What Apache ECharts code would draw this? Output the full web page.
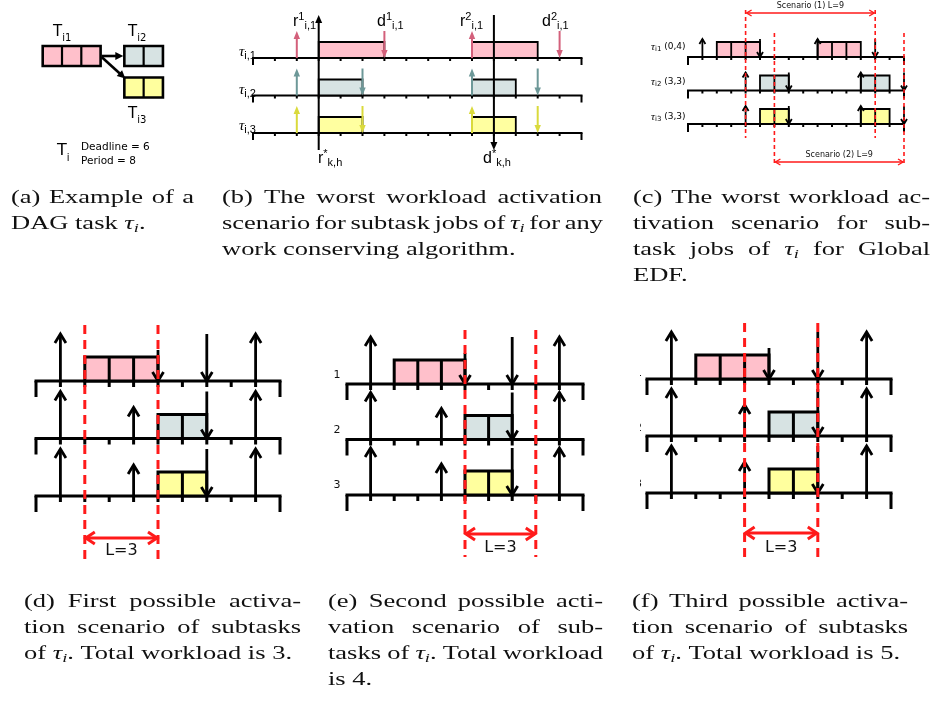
<!DOCTYPE html>
<html><head><meta charset="utf-8">
<script src="https://cdn.jsdelivr.net/npm/echarts@6/dist/echarts.min.js"></script>
<style>html,body{margin:0;padding:0;background:#fff}#c{width:936px;height:703px}</style>
</head><body><div id="c"></div>
<script>
// ================= DATA =================
// (a) DAG task
const dagNodes = ['i1', 'i2', 'i3'];
const dagWcet = [3, 2, 2];
const dagEdges = [[0, 1], [0, 2]];
const dagDeadline = 6;
const dagPeriod = 8;

// (b) worst workload scenario, any work-conserving algorithm
const bRowLabels = ['i,1', 'i,2', 'i,3'];
const bReleases = [[2, 10], [2, 10], [2, 10]];
const bDeadlines = [[6, 14], [5, 13], [5, 13]];
const bJobs = [[[3, 6], [10, 13]], [[3, 5], [10, 12]], [[3, 5], [10, 12]]];
const bWindow = [3, 11];           // r*k,h , d*k,h
const bHorizon = 15;

// (c) worst workload scenario, Global EDF
const cRowLabels = [['i1', '(0,4)'], ['i2', '(3,3)'], ['i3', '(3,3)']];
const cReleases = [[1, 9], [4, 12], [4, 12]];
const cDeadlines = [[5, 13], [7, 15], [7, 15]];
const cJobs = [[[2, 5], [9, 12]], [[5, 7], [12, 14]], [[5, 7], [12, 14]]];
const cScenarios = [[4, 13], [6, 15]];
const cScenarioLabels = ['Scenario (1) L=9', 'Scenario (2) L=9'];
const cHorizon = 15;

// (d)(e)(f) possible activation scenarios
const sReleases = [[1, 9], [1, 4, 9], [1, 4, 9]];
const sDeadlines = [[5, 7], [7], [7]];
const sJobs = [[2, 5], [5, 7], [5, 7]];
const sWindows = [[2, 5], [5, 8], [4, 7]];
const sWindowLabels = ['L=3', 'L=3', 'L=3'];
const sRowLabels = ['1', '2', '3'];
const sHorizon = 10;

// captions
const captionA = ['(a) Example of a', 'DAG task §.'];
const captionB = ['(b) The worst workload activation', 'scenario for subtask jobs of § for any', 'work conserving algorithm.'];
const captionC = ['(c) The worst workload ac-', 'tivation scenario for sub-', 'task jobs of § for Global', 'EDF.'];
const captionD = ['(d) First possible activa-', 'tion scenario of subtasks', 'of §. Total workload is 3.'];
const captionE = ['(e) Second possible acti-', 'vation scenario of sub-', 'tasks of §. Total workload', 'is 4.'];
const captionF = ['(f) Third possible activa-', 'tion scenario of subtasks', 'of §. Total workload is 5.'];

// ================= STYLE / LAYOUT =================
const PINK = '#ffc0cb', GREY = '#d7e3e3', YEL = '#ffff9e', RED = '#ff1a1a';
const STB = {lw: 2, tick: 3, endTick: 7, boxH: 16, boxLw: 1.8, cells: false, arrowLen: 27, headLen: 8, headHalf: 3.2,
  filled: true, arrowLw: 2, fills: [PINK, GREY, '#ffffa0'], arrowColors: ['#d3607b', '#6d9898', '#dada3c']};
const STC = {lw: 2, tick: 3, endTick: 8, boxH: 15, boxLw: 1.8, cells: true, arrowLen: 18, headLen: 5, headHalf: 3,
  filled: false, arrowLw: 1.8, fills: [PINK, GREY, YEL], arrowColors: null,
  red: RED, wlw: 1.6, dash: [4, 3], alw: 1.4, ahl: 5, ahh: 3, font: '8px "DejaVu Sans"',
  wins: [{y1: 10, y2: 138, ay: 13, ly: 6}, {y1: 33, y2: 163, ay: 162, ly: 155}]};
const STS = {lw: 3, tick: 6, endTick: 16, boxH: 24, boxLw: 3, cells: true, arrowLen: 47, shortLen: 31, headLen: 9, headHalf: 5.5,
  filled: false, arrowLw: 2.8, fills: [PINK, GREY, YEL], arrowColors: null,
  red: RED, wlw: 3, dash: [9, 6], alw: 3, ahl: 9, ahh: 6, font: '16px "DejaVu Sans"'};
const sShortArrows = [[5, 0, -1], [4, 1, 1], [4, 2, 1]]; // [t,row,dir] drawn with the short length
const winD = [{y1: 325, y2: 560, ay: 538, ly: 551}];
const winE = [{y1: 330, y2: 557, ay: 534, ly: 548}];
const winF = [{y1: 323, y2: 560, ay: 533, ly: 548}];
const layoutA = {col: [0, 4.23, 4.23], row: [0, 0, 1], boxH: 20, fills: [PINK, GREY, YEL]};

// ================= HELPERS =================
const mctx = document.createElement('canvas').getContext('2d');
function tw(t, f) { mctx.font = f; return mctx.measureText(t).width; }
function txt(x, y, t, f, align, color, sx) {
  const el = {type: 'text', x: x, y: y, silent: true,
    style: {text: t, font: f, fill: color || '#000', align: align || 'left', textAlign: align || 'left',
      verticalAlign: 'middle', textVerticalAlign: 'middle'}};
  if (sx) el.scaleX = sx;
  return el;
}
function seq(x, y, pieces) {
  const out = []; let cx = x;
  pieces.forEach(p => { out.push(txt(cx, y + (p[2] || 0), p[0], p[1])); cx += tw(p[0], p[1]); });
  return out;
}
function arrowEls(base, tip, d, hl, hh, color, lw, filled) {
  const els = [];
  const end = filled ? [tip[0] - d[0] * hl * 0.7, tip[1] - d[1] * hl * 0.7] : tip;
  els.push({type: 'line', shape: {x1: base[0], y1: base[1], x2: end[0], y2: end[1]}, style: {stroke: color, lineWidth: lw}});
  const bx = tip[0] - d[0] * hl, by = tip[1] - d[1] * hl, px = -d[1] * hh, py = d[0] * hh;
  const pts = [[bx + px, by + py], tip, [bx - px, by - py]];
  if (filled) els.push({type: 'polygon', shape: {points: pts}, style: {fill: color}});
  else els.push({type: 'polyline', shape: {points: pts}, style: {stroke: color, lineWidth: lw, fill: null, lineJoin: 'miter'}});
  return els;
}
function chev(tip, d, hl, hh, color, lw) {
  const bx = tip[0] - d[0] * hl, by = tip[1] - d[1] * hl, px = -d[1] * hh, py = d[0] * hh;
  return {type: 'polyline', shape: {points: [[bx + px, by + py], tip, [bx - px, by - py]]}, style: {stroke: color, lineWidth: lw, fill: null}};
}

// ================= CHART BUILD =================
const grids = [], xAxes = [], yAxes = [], series = [];
function addGrid(rect, xmax, ymax) {
  const i = grids.length;
  grids.push({left: rect[0], top: rect[1], width: rect[2], height: rect[3], containLabel: false, show: false});
  xAxes.push({gridIndex: i, type: 'value', min: 0, max: xmax, show: false});
  yAxes.push({gridIndex: i, type: 'value', min: 0, max: ymax, inverse: true, show: false});
  return i;
}
function addCustom(gi, data, render, z) {
  series.push({type: 'custom', xAxisIndex: gi, yAxisIndex: gi, data: data, renderItem: render,
    clip: false, silent: true, animation: false, z: z});
}
function timelineRender(st) {
  return function (params, api) {
    const H = api.value(0), r = api.value(1);
    const p0 = api.coord([0, r]), p1 = api.coord([H, r]);
    const ch = [{type: 'line', shape: {x1: p0[0] - st.lw / 2, y1: p0[1], x2: p1[0] + st.lw / 2, y2: p1[1]}, style: {stroke: '#000', lineWidth: st.lw}}];
    for (let t = 0; t <= H; t++) {
      const p = api.coord([t, r]);
      const L = (t === 0 || t === H) ? st.endTick : st.tick;
      ch.push({type: 'line', shape: {x1: p[0], y1: p[1], x2: p[0], y2: p[1] + L}, style: {stroke: '#000', lineWidth: st.lw}});
    }
    return {type: 'group', children: ch};
  };
}
function jobRender(st) {
  return function (params, api) {
    const s = api.value(0), r = api.value(1), e = api.value(2);
    const a = api.coord([s, r]), b = api.coord([e, r]);
    const ch = [{type: 'rect', shape: {x: a[0], y: a[1] - st.boxH, width: b[0] - a[0], height: st.boxH},
      style: {fill: st.fills[r], stroke: '#000', lineWidth: st.boxLw}}];
    if (st.cells) {
      for (let t = s + 1; t < e; t++) {
        const p = api.coord([t, r]);
        ch.push({type: 'line', shape: {x1: p[0], y1: p[1] - st.boxH, x2: p[0], y2: p[1]}, style: {stroke: '#000', lineWidth: st.boxLw}});
      }
    }
    return {type: 'group', children: ch};
  };
}
function arrowRender(st) {
  return function (params, api) {
    const t = api.value(0), r = api.value(1), dir = api.value(2), sh = api.value(3);
    const p = api.coord([t, r]);
    const len = sh ? st.shortLen : st.arrowLen;
    const color = st.arrowColors ? st.arrowColors[r] : '#000';
    let base, tip, d;
    if (dir > 0) { base = [p[0], p[1]]; tip = [p[0], p[1] - len]; d = [0, -1]; }
    else { base = [p[0], p[1] - len]; tip = [p[0], p[1]]; d = [0, 1]; }
    return {type: 'group', children: arrowEls(base, tip, d, st.headLen, st.headHalf, color, st.arrowLw, st.filled)};
  };
}
function windowRender(st, wins, labels) {
  return function (params, api) {
    const s = api.value(0), idx = api.value(1), e = api.value(2);
    const w = wins[idx];
    const x1 = api.coord([s, 0])[0], x2 = api.coord([e, 0])[0];
    const ch = [];
    [x1, x2].forEach(x => ch.push({type: 'line', shape: {x1: x, y1: w.y1, x2: x, y2: w.y2},
      style: {stroke: st.red, lineWidth: st.wlw, lineDash: st.dash}}));
    ch.push({type: 'line', shape: {x1: x1 + 1, y1: w.ay, x2: x2 - 1, y2: w.ay}, style: {stroke: st.red, lineWidth: st.alw}});
    ch.push(chev([x1 + 1, w.ay], [-1, 0], st.ahl, st.ahh, st.red, st.alw));
    ch.push(chev([x2 - 1, w.ay], [1, 0], st.ahl, st.ahh, st.red, st.alw));
    ch.push(txt((x1 + x2) / 2, w.ly, labels[idx], st.font, 'center', '#111'));
    return {type: 'group', children: ch};
  };
}
function timelinePanel(gi, st, H, releases, deadlines, jobs, shortList) {
  const isShort = (t, r, d) => (shortList || []).some(s => s[0] === t && s[1] === r && s[2] === d) ? 1 : 0;
  addCustom(gi, [0, 1, 2].map(r => [H, r]), timelineRender(st), 2);
  addCustom(gi, jobs, jobRender(st), 3);
  const arrows = [];
  releases.forEach((ts, r) => ts.forEach(t => arrows.push([t, r, 1, isShort(t, r, 1)])));
  deadlines.forEach((ts, r) => ts.forEach(t => arrows.push([t, r, -1, isShort(t, r, -1)])));
  addCustom(gi, arrows, arrowRender(st), 4);
}

// ---- panel (a) ----
const gA = addGrid([42.7, 56, 19.3 * 8, 31.5], 8, 1);
addCustom(gA, dagNodes.map((n, i) => [layoutA.col[i], layoutA.row[i], dagWcet[i], i]), function (params, api) {
  const c = api.value(0), r = api.value(1), w = api.value(2), i = api.value(3);
  const a = api.coord([c, r]), b = api.coord([c + w, r]);
  const h = layoutA.boxH;
  const ch = [{type: 'rect', shape: {x: a[0], y: a[1] - h / 2, width: b[0] - a[0], height: h},
    style: {fill: layoutA.fills[i], stroke: '#000', lineWidth: 2.6}}];
  for (let k = 1; k < w; k++) {
    const p = api.coord([c + k, r]);
    ch.push({type: 'line', shape: {x1: p[0], y1: p[1] - h / 2, x2: p[0], y2: p[1] + h / 2}, style: {stroke: '#000', lineWidth: 2.2}});
  }
  return {type: 'group', children: ch};
}, 3);
addCustom(gA, dagEdges.map(e => [e[0], e[1]]), function (params, api) {
  const f = api.value(0), t = api.value(1);
  const s = api.coord([layoutA.col[f] + dagWcet[f], layoutA.row[f]]);
  const g = api.coord([layoutA.col[t], layoutA.row[t]]);
  let tip, base;
  if (layoutA.row[f] === layoutA.row[t]) { base = [s[0] + 1, s[1]]; tip = [g[0] - 1, g[1]]; }
  else { base = [s[0] + 1, s[1] + 1]; tip = [g[0] + 1, g[1] - layoutA.boxH / 2 + 1]; }
  const dx = tip[0] - base[0], dy = tip[1] - base[1], L = Math.hypot(dx, dy);
  return {type: 'group', children: arrowEls(base, tip, [dx / L, dy / L], 8, 4, '#000', 2.6, true)};
}, 4);

// ---- panel (b) ----
const gB = addGrid([253, 58, 328.5, 75], bHorizon, 2);
timelinePanel(gB, STB, bHorizon, bReleases, bDeadlines,
  bJobs.flatMap((js, r) => js.map(j => [j[0], r, j[1]])), null);
addCustom(gB, [[bWindow[0], 1], [bWindow[1], -1]], function (params, api) {
  const t = api.value(0), dir = api.value(1);
  const x = api.coord([t, 0])[0];
  const top = 15, bot = 150;
  const els = dir > 0 ? arrowEls([x, bot], [x, top], [0, -1], 8, 3.5, '#000', 2, true)
    : arrowEls([x, top], [x, bot], [0, 1], 8, 3.5, '#000', 2, true);
  return {type: 'group', children: els};
}, 5);

// ---- panel (c) ----
const gC = addGrid([688, 57, 216, 67], cHorizon, 2);
timelinePanel(gC, STC, cHorizon, cReleases, cDeadlines,
  cJobs.flatMap((js, r) => js.map(j => [j[0], r, j[1]])), null);
addCustom(gC, cScenarios.map((s, i) => [s[0], i, s[1]]), windowRender(STC, STC.wins, cScenarioLabels), 6);

// ---- panels (d)(e)(f) ----
const sJobData = sJobs.map((j, r) => [j[0], r, j[1]]);
[[36, 381, 244, 115, winD], [347, 384, 236, 111, winE], [647, 379, 244, 114, winF]].forEach((g, k) => {
  const gi = addGrid(g.slice(0, 4), sHorizon, 2);
  timelinePanel(gi, STS, sHorizon, sReleases, sDeadlines, sJobData, sShortArrows);
  addCustom(gi, [[sWindows[k][0], 0, sWindows[k][1]]], windowRender(STS, g[4], [sWindowLabels[k]]), 6);
});

// ================= TEXT (graphic) =================
const G = [];
// (a) labels
const SA = '15px "DejaVu Sans"', SAs = '10px "DejaVu Sans"';
G.push(...seq(53, 32, [['T', SA], [dagNodes[0], SAs, 6]]));
G.push(...seq(128, 32, [['T', SA], [dagNodes[1], SAs, 6]]));
G.push(...seq(128, 114, [['T', SA], [dagNodes[2], SAs, 6]]));
G.push(...seq(57, 151, [['T', '16px "DejaVu Sans"'], ['i', SAs, 7]]));
G.push(txt(81, 147, 'Deadline = ' + dagDeadline, '10.5px "DejaVu Sans"'));
G.push(txt(81, 161, 'Period = ' + dagPeriod, '10.5px "DejaVu Sans"'));
// (b) labels
const LB = '16px "Liberation Sans"', LBs = '11px "Liberation Sans"';
const TAU = 'italic 15px "Liberation Serif"';
[52, 90, 126].forEach((y, r) => G.push(...seq(239, y, [['τ', TAU], [bRowLabels[r], LBs, 4]])));
G.push(...seq(293, 22, [['r', LB], ['1', LBs, -5], ['i,1', LBs, 4]]));
G.push(...seq(377, 22, [['d', LB], ['1', LBs, -5], ['i,1', LBs, 4]]));
G.push(...seq(460, 22, [['r', LB], ['2', LBs, -5], ['i,1', LBs, 4]]));
G.push(...seq(542, 22, [['d', LB], ['2', LBs, -5], ['i,1', LBs, 4]]));
G.push(...seq(318, 159, [['r', LB], ['*', LBs, -5], ['k,h', LBs, 4]]));
G.push(...seq(483, 159, [['d', LB], ['*', LBs, -5], ['k,h', LBs, 4]]));
// (c) labels
[47, 82, 117].forEach((y, r) => G.push(...seq(651, y, [['τ', 'italic 11px "Liberation Serif"'],
  [cRowLabels[r][0], '7px "DejaVu Sans"', 2], [' ' + cRowLabels[r][1], '9px "DejaVu Sans"']])));
// (e) row labels
[375, 430, 485].forEach((y, r) => G.push(txt(337, y, sRowLabels[r], '11px "DejaVu Sans"', 'center', '#111')));
// (f) row labels (clipped at the left edge)
[373, 428, 484].forEach((y, r) => G.push(txt(642, y, sRowLabels[r], '11px "DejaVu Sans"', 'right', '#111')));
G.push({type: 'rect', shape: {x: 600, y: 360, width: 40, height: 135}, style: {fill: '#fff'}, z: 10});

// captions (serif, horizontally widened to the Computer Modern set width, justified)
const CF = '19.5px "Liberation Serif"', CT = 'italic 19.5px "Liberation Serif"', CS = 'italic 13.5px "Liberation Serif"';
function pieces(word) {
  const parts = word.split('§'); const out = [];
  parts.forEach((p, i) => {
    if (i > 0) { out.push(['τ', CT, 0]); out.push(['i', CS, 4]); }
    if (p) out.push([p, CF, 0]);
  });
  return out;
}
function natural(line) {
  const ws = line.split(' ').map(pieces);
  return ws.reduce((s, ps) => s + ps.reduce((a, p) => a + tw(p[0], p[1]), 0), 0) + tw(' ', CF) * (ws.length - 1);
}
const KX = 268 / natural(captionF[2]);   // reference set width of that last line
function caption(x, w, y0, lh, lines) {
  lines.forEach((line, li) => {
    const words = line.split(' ').map(pieces);
    const widths = words.map(ps => ps.reduce((s, p) => s + tw(p[0], p[1]) * KX, 0));
    const total = widths.reduce((a, b) => a + b, 0);
    const justify = li < lines.length - 1 && words.length > 1;
    const sp = tw(' ', CF) * KX;
    const gap = justify ? Math.max(sp * 0.7, (w - total) / (words.length - 1)) : sp;
    let cx = x; const y = y0 + li * lh;
    words.forEach(ps => {
      ps.forEach(p => { G.push(txt(cx, y + p[2], p[0], p[1], 'left', '#111', KX)); cx += tw(p[0], p[1]) * KX; });
      cx += gap;
    });
  });
}
caption(11, 183, 198, 26, captionA);
caption(222, 380, 198, 26, captionB);
caption(633, 297, 198, 26, captionC);
caption(24, 277, 602, 26, captionD);
caption(328, 275, 602, 26, captionE);
caption(632, 276, 602, 26, captionF);

const chart = echarts.init(document.getElementById('c'), null, {renderer: 'canvas', width: 936, height: 703});
chart.setOption({
  animation: false,
  backgroundColor: '#fff',
  grid: grids, xAxis: xAxes, yAxis: yAxes, series: series,
  graphic: {elements: G}
});
</script></body></html>
